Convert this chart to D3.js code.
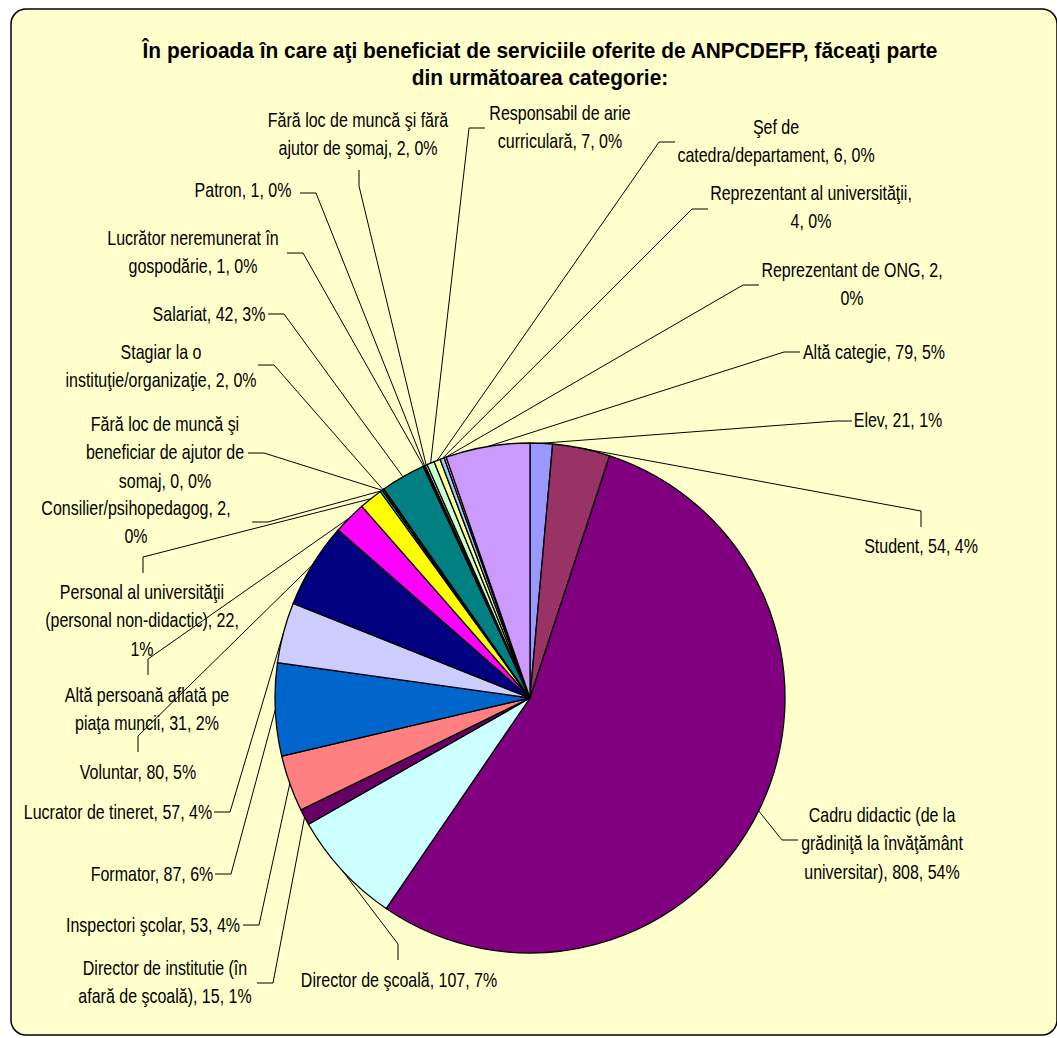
<!DOCTYPE html>
<html>
<head>
<meta charset="utf-8">
<script src="https://cdn.jsdelivr.net/npm/d3@7/dist/d3.min.js"></script>
<style>
  body { margin: 0; background: #fff; }
  text { font-family: "Liberation Sans", Arial, sans-serif; fill: #000; }
</style>
</head>
<body>
<div id="chart"></div>
<script>
// Data (clockwise from 12 o'clock)
const categories = [
  'Elev', 'Student', 'Cadru didactic (de la grădiniţă la învăţământ universitar)',
  'Director de şcoală', 'Director de institutie (în afară de şcoală)', 'Inspectori şcolar',
  'Formator', 'Lucrator de tineret', 'Voluntar', 'Altă persoană aflată pe piaţa muncii',
  'Personal al universităţii (personal non-didactic)', 'Consilier/psihopedagog',
  'Fără loc de muncă şi beneficiar de ajutor de somaj', 'Stagiar la o instituţie/organizaţie',
  'Salariat', 'Lucrător neremunerat în gospodărie', 'Patron',
  'Fără loc de muncă şi fără ajutor de şomaj', 'Responsabil de arie curriculară',
  'Şef de catedra/departament', 'Reprezentant al universităţii', 'Reprezentant de ONG',
  'Altă categie'
];
const values = [21, 54, 808, 107, 15, 53, 87, 57, 80, 31, 22, 2, 0, 2, 42, 1, 1, 2, 7, 6, 4, 2, 79];
const colors = [
  '#9999FF', '#993366', '#800080', '#CCFFFF', '#660066', '#FF8080', '#0066CC', '#CCCCFF',
  '#000080', '#FF00FF', '#FFFF00', '#00FFFF', '#800080', '#800000', '#008080', '#0000FF',
  '#00CCFF', '#CCFFFF', '#CCFFCC', '#FFFF99', '#99CCFF', '#FF99CC', '#CC99FF'
];
const titleLines = ['În perioada în care aţi beneficiat de serviciile oferite de ANPCDEFP, făceaţi parte',
  'din următoarea categorie:'];

// words per label line (how Excel wrapped them)
const wrap = [[3], [3], [4, 3, 3], [5], [4, 5], [4], [3], [5], [3], [4, 4], [3, 3, 1], [2, 1],
  [5, 4, 3], [3, 3], [3], [3, 3], [3], [6, 5], [3, 3], [2, 3], [3, 2], [4, 1], [4]];

// label layout: centre of text block, side the leader attaches to, attach point
const labelPos = [
  [898, 420, 'l', 852, 421], [921, 546, 't', 921, 527], [882, 843, 'l', 798, 840],
  [399, 980, 't', 398, 960], [165, 982, 'r', 257, 983], [153, 925, 'r', 243, 925],
  [152, 874, 'r', 215, 874], [118, 812, 'r', 214, 812], [138, 772, 't', 138, 752],
  [147, 709, 't', 148, 675], [142, 620, 't', 143, 573], [136, 522, 'r', 252, 522],
  [165, 452, 'r', 248, 453], [161, 366, 'r', 258, 365], [209, 314, 'r', 268, 314],
  [193, 252, 'r', 287, 253], [243, 190, 'r', 300, 193], [358, 134, 'b', 359, 170],
  [560, 127, 'l', 485, 128], [776, 141, 'l', 675, 142], [811, 207, 'l', 708, 209],
  [852, 284, 'l', 759, 285], [874, 352, 'l', 800, 352]
];

const W = 1057, H = 1038;
const cx = 530, cy = 698, r = 255;
const fs = 20.5, sx = 0.78, lh = 28.5;

const svg = d3.select('#chart').append('svg')
  .attr('width', W)
  .attr('height', H);

// chart area
svg.append('rect')
  .attr('x', 11).attr('y', 9)
  .attr('width', 1046).attr('height', 1026)
  .attr('rx', 15)
  .attr('fill', '#FFFFCC')
  .attr('stroke', '#000')
  .attr('stroke-width', 1.5);

// title
svg.append('g')
  .attr('transform', 'translate(540,0) scale(0.95,1)')
  .selectAll('text')
  .data(titleLines)
  .join('text')
  .attr('x', 0)
  .attr('y', (d, i) => 58 + i * 27)
  .attr('text-anchor', 'middle')
  .style('font-size', '22px')
  .style('font-weight', 'bold')
  .text(d => d);

// pie
const total = d3.sum(values);
const arcs = d3.pie().sort(null).value(d => d)(values);
const arc = d3.arc().innerRadius(0).outerRadius(r);
const edge = d3.arc().innerRadius(r).outerRadius(r);

const g = svg.append('g').attr('transform', 'translate(' + cx + ',' + cy + ')');
g.selectAll('path')
  .data(arcs)
  .join('path')
  .attr('d', arc)
  .attr('fill', (d, i) => colors[i])
  .attr('stroke', '#000')
  .attr('stroke-width', 1.3);

// labels
function labelLines(i) {
  const words = (categories[i] + ', ' + values[i] + ', ' + Math.round(values[i] / total * 100) + '%').split(' ');
  const out = [];
  let k = 0;
  wrap[i].forEach(n => { out.push(words.slice(k, k + n).join(' ')); k += n; });
  return out;
}

const labels = svg.selectAll('g.label')
  .data(arcs)
  .join('g')
  .attr('class', 'label')
  .attr('transform', (d, i) => 'translate(' + labelPos[i][0] + ',' + labelPos[i][1] + ') scale(' + sx + ',1)');

labels.each(function (d, i) {
  const lines = labelLines(i);
  d3.select(this).selectAll('text')
    .data(lines)
    .join('text')
    .attr('x', 0)
    .attr('y', (t, j) => (j - (lines.length - 1) / 2) * lh + 0.35 * fs)
    .attr('text-anchor', 'middle')
    .style('font-size', fs + 'px')
    .text(t => t);
});

// leader lines
const off = { l: [-16, 0], r: [16, 0], t: [0, -16], b: [0, 16] };
svg.append('g')
  .selectAll('path')
  .data(arcs)
  .join('path')
  .attr('fill', 'none')
  .attr('stroke', '#000')
  .attr('stroke-width', 1)
  .attr('d', (d, i) => {
    const p = edge.centroid(d);
    const L = labelPos[i];
    const o = off[L[2]];
    return 'M' + (cx + p[0]) + ',' + (cy + p[1]) +
      'L' + (L[3] + o[0]) + ',' + (L[4] + o[1]) +
      'L' + L[3] + ',' + L[4];
  });
</script>
</body>
</html>
